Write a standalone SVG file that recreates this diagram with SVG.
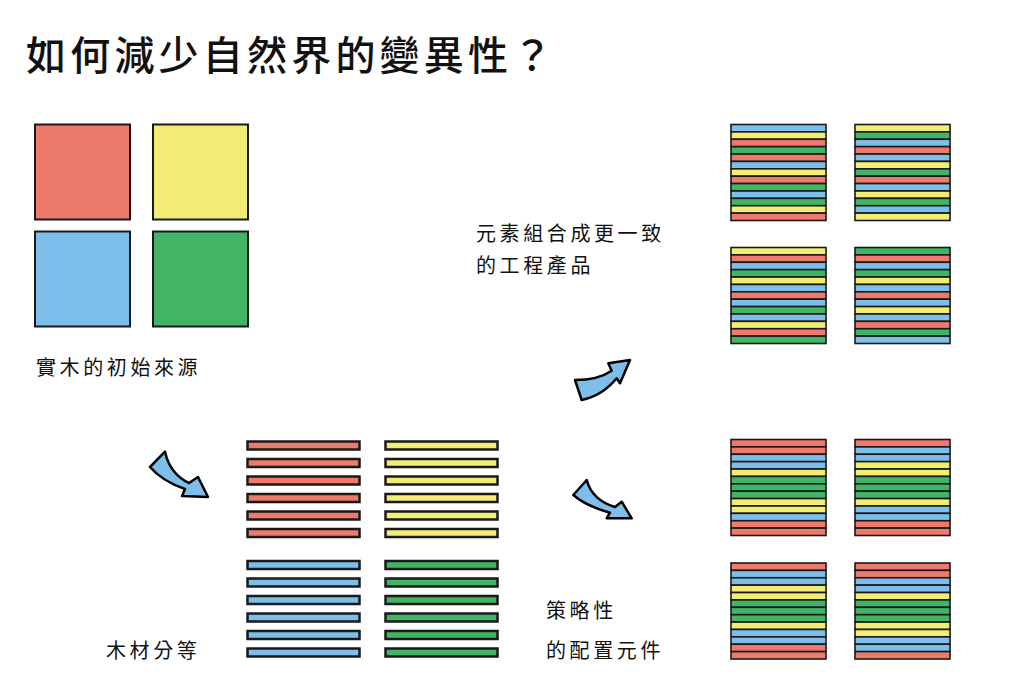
<svg xmlns="http://www.w3.org/2000/svg" width="1024" height="695" viewBox="0 0 1024 695">
<style>
.r{fill:#EE7A6C}.y{fill:#F2EE75}.b{fill:#7DBFEA}.g{fill:#41B565}
.sq{stroke:#1a1a1a;stroke-width:2}
.st{stroke:#1a1a1a;stroke-width:1.6}
.strip{stroke:#1a1a1a;stroke-width:2.5}
.arr{fill:#7DBFEA;stroke:#000;stroke-width:2.5;stroke-linejoin:round}
.t{font-family:"Noto Sans CJK TC","Noto Sans CJK SC",sans-serif;fill:#111}
.lab{font-size:20px;letter-spacing:3.6px}
</style>
<defs>
<rect id="s" width="95" height="7.385"/>
</defs>
<text class="t" x="26" y="70" font-size="40" font-weight="500" letter-spacing="4.2">如何減少自然界的變異性？</text>

<g id="solid-wood">
<rect class="sq r" x="35" y="124.5" width="95" height="95"/>
<rect class="sq y" x="153" y="124.5" width="95" height="95"/>
<rect class="sq b" x="35" y="231.5" width="95" height="95"/>
<rect class="sq g" x="153" y="231.5" width="95" height="95"/>
<text class="t lab" x="36" y="375">實木的初始來源</text>
</g>

<g id="grading">
<g class="strip r">
<rect x="247.5" y="441.5" width="112" height="8"/>
<rect x="247.5" y="459" width="112" height="8"/>
<rect x="247.5" y="476.5" width="112" height="8"/>
<rect x="247.5" y="494" width="112" height="8"/>
<rect x="247.5" y="511.5" width="112" height="8"/>
<rect x="247.5" y="529" width="112" height="8"/>
</g>
<g class="strip y">
<rect x="385.5" y="441.5" width="112" height="8"/>
<rect x="385.5" y="459" width="112" height="8"/>
<rect x="385.5" y="476.5" width="112" height="8"/>
<rect x="385.5" y="494" width="112" height="8"/>
<rect x="385.5" y="511.5" width="112" height="8"/>
<rect x="385.5" y="529" width="112" height="8"/>
</g>
<g class="strip b">
<rect x="247.5" y="561" width="112" height="8"/>
<rect x="247.5" y="578.5" width="112" height="8"/>
<rect x="247.5" y="596" width="112" height="8"/>
<rect x="247.5" y="613.5" width="112" height="8"/>
<rect x="247.5" y="631" width="112" height="8"/>
<rect x="247.5" y="648.5" width="112" height="8"/>
</g>
<g class="strip g">
<rect x="385.5" y="561" width="112" height="8"/>
<rect x="385.5" y="578.5" width="112" height="8"/>
<rect x="385.5" y="596" width="112" height="8"/>
<rect x="385.5" y="613.5" width="112" height="8"/>
<rect x="385.5" y="631" width="112" height="8"/>
<rect x="385.5" y="648.5" width="112" height="8"/>
</g>
<text class="t lab" x="106" y="658">木材分等</text>
</g>

<g id="engineered">
<g class="st" transform="translate(731,124.5)">
<use href="#s" y="0" class="b"/><use href="#s" y="7.385" class="y"/><use href="#s" y="14.77" class="r"/><use href="#s" y="22.155" class="g"/><use href="#s" y="29.54" class="r"/><use href="#s" y="36.925" class="b"/><use href="#s" y="44.31" class="y"/><use href="#s" y="51.695" class="r"/><use href="#s" y="59.08" class="g"/><use href="#s" y="66.465" class="b"/><use href="#s" y="73.85" class="g"/><use href="#s" y="81.235" class="y"/><use href="#s" y="88.62" class="r"/>
</g>
<g class="st" transform="translate(855,124.5)">
<use href="#s" y="0" class="y"/><use href="#s" y="7.385" class="g"/><use href="#s" y="14.77" class="b"/><use href="#s" y="22.155" class="r"/><use href="#s" y="29.54" class="b"/><use href="#s" y="36.925" class="y"/><use href="#s" y="44.31" class="g"/><use href="#s" y="51.695" class="r"/><use href="#s" y="59.08" class="b"/><use href="#s" y="66.465" class="y"/><use href="#s" y="73.85" class="g"/><use href="#s" y="81.235" class="b"/><use href="#s" y="88.62" class="y"/>
</g>
<g class="st" transform="translate(731,247.5)">
<use href="#s" y="0" class="y"/><use href="#s" y="7.385" class="r"/><use href="#s" y="14.77" class="b"/><use href="#s" y="22.155" class="g"/><use href="#s" y="29.54" class="y"/><use href="#s" y="36.925" class="b"/><use href="#s" y="44.31" class="r"/><use href="#s" y="51.695" class="b"/><use href="#s" y="59.08" class="g"/><use href="#s" y="66.465" class="b"/><use href="#s" y="73.85" class="y"/><use href="#s" y="81.235" class="r"/><use href="#s" y="88.62" class="g"/>
</g>
<g class="st" transform="translate(855,247.5)">
<use href="#s" y="0" class="g"/><use href="#s" y="7.385" class="r"/><use href="#s" y="14.77" class="b"/><use href="#s" y="22.155" class="g"/><use href="#s" y="29.54" class="y"/><use href="#s" y="36.925" class="b"/><use href="#s" y="44.31" class="r"/><use href="#s" y="51.695" class="b"/><use href="#s" y="59.08" class="y"/><use href="#s" y="66.465" class="b"/><use href="#s" y="73.85" class="r"/><use href="#s" y="81.235" class="g"/><use href="#s" y="88.62" class="b"/>
</g>
<text class="t lab" x="476" y="241">元素組合成更一致</text>
<text class="t lab" x="476" y="273">的工程產品</text>
</g>

<g id="strategic">
<g class="st" transform="translate(731,439.5)">
<use href="#s" y="0" class="r"/><use href="#s" y="7.385" class="r"/><use href="#s" y="14.77" class="b"/><use href="#s" y="22.155" class="b"/><use href="#s" y="29.54" class="y"/><use href="#s" y="36.925" class="g"/><use href="#s" y="44.31" class="g"/><use href="#s" y="51.695" class="g"/><use href="#s" y="59.08" class="y"/><use href="#s" y="66.465" class="y"/><use href="#s" y="73.85" class="b"/><use href="#s" y="81.235" class="r"/><use href="#s" y="88.62" class="r"/>
</g>
<g class="st" transform="translate(855,439.5)">
<use href="#s" y="0" class="r"/><use href="#s" y="7.385" class="b"/><use href="#s" y="14.77" class="b"/><use href="#s" y="22.155" class="y"/><use href="#s" y="29.54" class="y"/><use href="#s" y="36.925" class="g"/><use href="#s" y="44.31" class="g"/><use href="#s" y="51.695" class="g"/><use href="#s" y="59.08" class="y"/><use href="#s" y="66.465" class="b"/><use href="#s" y="73.85" class="b"/><use href="#s" y="81.235" class="r"/><use href="#s" y="88.62" class="r"/>
</g>
<g class="st" transform="translate(731,563)">
<use href="#s" y="0" class="r"/><use href="#s" y="7.385" class="b"/><use href="#s" y="14.77" class="b"/><use href="#s" y="22.155" class="y"/><use href="#s" y="29.54" class="y"/><use href="#s" y="36.925" class="g"/><use href="#s" y="44.31" class="g"/><use href="#s" y="51.695" class="g"/><use href="#s" y="59.08" class="y"/><use href="#s" y="66.465" class="b"/><use href="#s" y="73.85" class="b"/><use href="#s" y="81.235" class="r"/><use href="#s" y="88.62" class="r"/>
</g>
<g class="st" transform="translate(855,563)">
<use href="#s" y="0" class="r"/><use href="#s" y="7.385" class="r"/><use href="#s" y="14.77" class="b"/><use href="#s" y="22.155" class="b"/><use href="#s" y="29.54" class="y"/><use href="#s" y="36.925" class="g"/><use href="#s" y="44.31" class="g"/><use href="#s" y="51.695" class="g"/><use href="#s" y="59.08" class="y"/><use href="#s" y="66.465" class="y"/><use href="#s" y="73.85" class="b"/><use href="#s" y="81.235" class="b"/><use href="#s" y="88.62" class="r"/>
</g>
<text class="t lab" x="546" y="618">策略性</text>
<text class="t lab" x="546" y="658">的配置元件</text>
</g>

<g id="connectors">
<path class="arr" d="M165,451.7 Q170,474 189,483 L198,477 L208,497 L182,496 L185,489 Q162,481 150,467 Z"/>
<path class="arr" d="M575,380 Q598,380 611.7,370.7 L608.3,363.3 L630,360 L620,383.3 L616.7,378.3 Q602,396 581.7,400 Z"/>
<path class="arr" d="M586.7,480 Q592,500 615,507 L621.7,501.7 L631.7,518.3 L606.7,518.3 L610,512.7 Q586,506 573.3,495 Z"/>
</g>
</svg>
